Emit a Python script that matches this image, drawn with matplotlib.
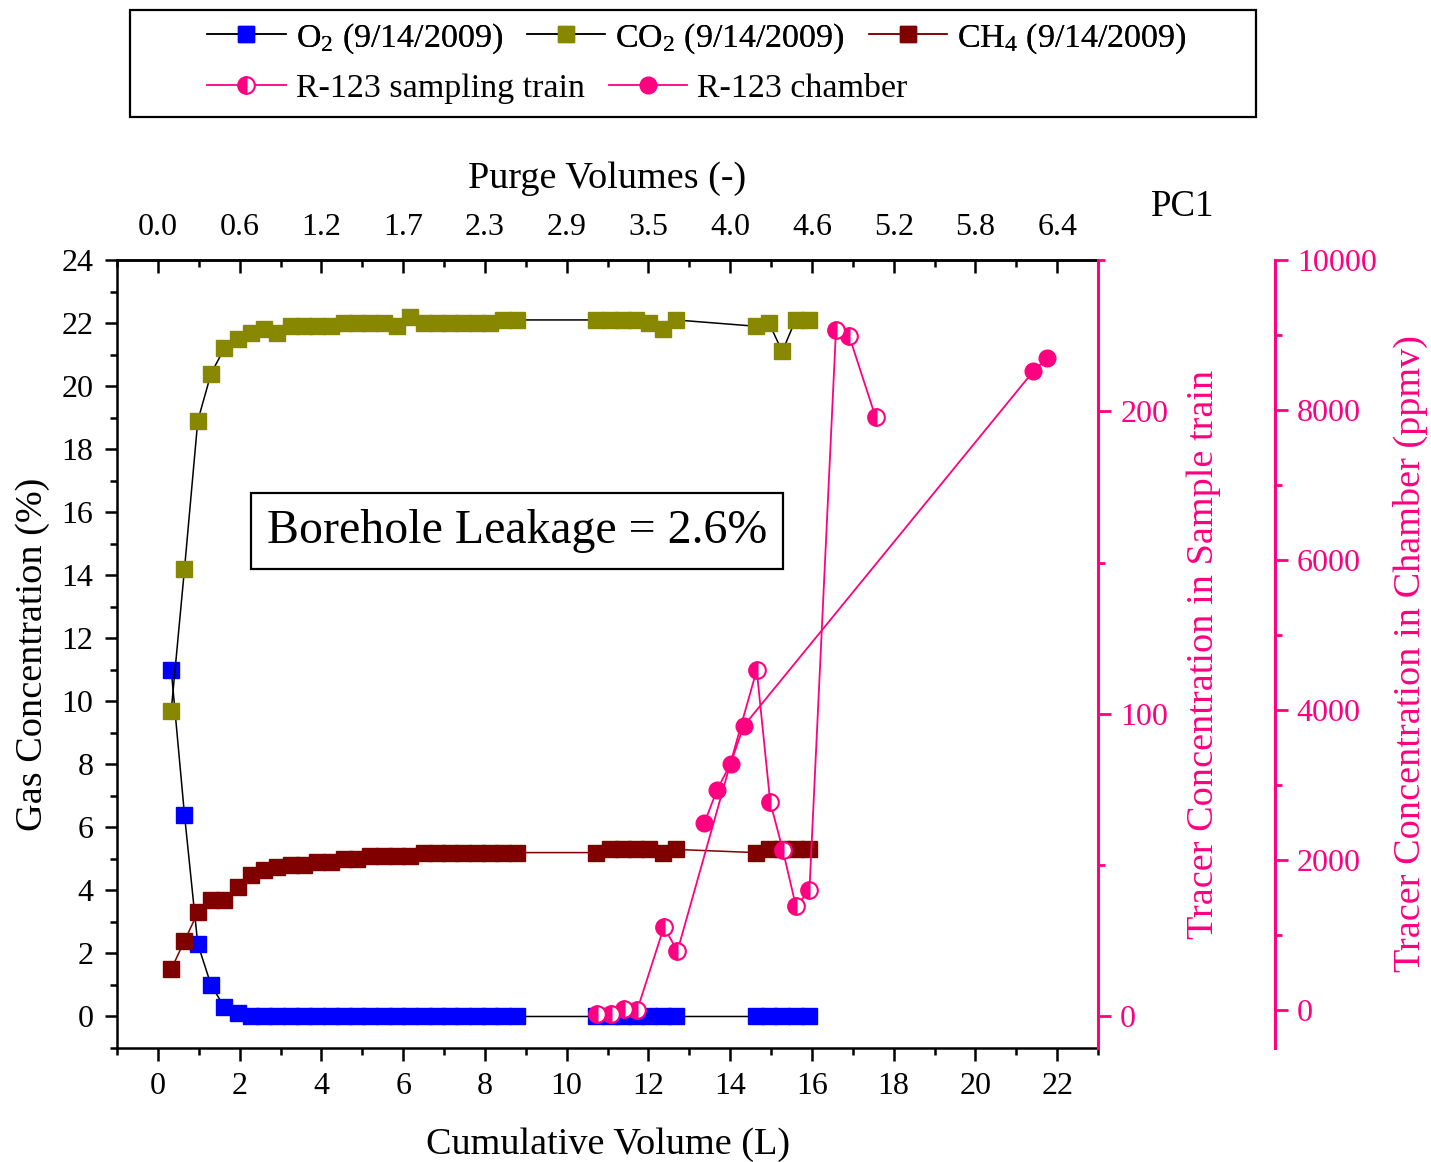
import matplotlib
matplotlib.use("Agg")
import matplotlib.pyplot as plt
from matplotlib.patches import Rectangle

plt.rcParams['font.family'] = ['Liberation Serif', 'DejaVu Serif']
plt.rcParams['mathtext.fontset'] = 'custom'
plt.rcParams['mathtext.rm'] = 'Liberation Serif'
plt.rcParams['mathtext.it'] = 'Liberation Serif:italic'

# cumulative volume (L) of the gas readings
vol = [0.325, 0.65, 0.975, 1.3, 1.625, 1.95, 2.275, 2.6, 2.925, 3.25, 3.575, 3.9,
       4.225, 4.55, 4.875, 5.2, 5.525, 5.85, 6.175, 6.5, 6.825, 7.15, 7.475, 7.8,
       8.125, 8.45, 8.775,
       10.725, 11.05, 11.375, 11.7, 12.025, 12.35, 12.675,
       14.625, 14.95, 15.275, 15.6, 15.925]
o2 = [11.0, 6.4, 2.3, 1.0, 0.3, 0.1, 0, 0, 0, 0, 0, 0,
      0, 0, 0, 0, 0, 0, 0, 0, 0, 0, 0, 0,
      0, 0, 0,
      0, 0, 0, 0, 0, 0, 0,
      0, 0, 0, 0, 0]
co2 = [9.7, 14.2, 18.9, 20.4, 21.2, 21.5, 21.7, 21.8, 21.7, 21.9, 21.9, 21.9,
       21.9, 22.0, 22.0, 22.0, 22.0, 21.9, 22.2, 22.0, 22.0, 22.0, 22.0, 22.0,
       22.0, 22.1, 22.1,
       22.1, 22.1, 22.1, 22.1, 22.0, 21.8, 22.1,
       21.9, 22.0, 21.1, 22.1, 22.1]
ch4 = [1.5, 2.4, 3.3, 3.7, 3.7, 4.1, 4.5, 4.65, 4.75, 4.8, 4.8, 4.9,
       4.9, 5.0, 5.0, 5.1, 5.1, 5.1, 5.1, 5.2, 5.2, 5.2, 5.2, 5.2,
       5.2, 5.2, 5.2,
       5.2, 5.3, 5.3, 5.3, 5.3, 5.2, 5.3,
       5.2, 5.3, 5.3, 5.3, 5.3]

# R-123 tracer
train_vol = [10.75, 11.09, 11.41, 11.73, 12.38, 12.71, 14.65, 14.98, 15.29,
             15.61, 15.94, 16.59, 16.91, 17.56]
train_conc = [0.7, 0.7, 2.5, 2.3, 29.6, 21.6, 114.5, 70.9, 54.9,
              36.4, 41.7, 227, 225, 198]
chamber_vol = [13.37, 13.68, 14.01, 14.33, 21.42, 21.75]
chamber_ppmv = [2500, 2940, 3290, 3790, 8520, 8690]

# top axis: purge volumes at the bottom ticks
purge_ticks = [0, 2, 4, 6, 8, 10, 12, 14, 16, 18, 20, 22]
purge_labels = ['0.0', '0.6', '1.2', '1.7', '2.3', '2.9', '3.5', '4.0', '4.6',
                '5.2', '5.8', '6.4']

pink = '#FF0080'
blue = '#0000FF'
olive = '#878700'
maroon = '#800000'
fs_tick = 23
fs_lab = 27.5

fig = plt.figure(figsize=(14.31, 11.62), dpi=100)
ax = fig.add_axes([0.0818, 0.0981, 0.6855, 0.6781])
ax2 = ax.twinx()
ax3 = ax.twinx()

ms = 11.5
l_o2, = ax.plot(vol, o2, '-', color='black', lw=1.1, marker='s', ms=ms,
                mfc=blue, mec=blue, label='O$_2$ (9/14/2009)', zorder=3)
l_co2, = ax.plot(vol, co2, '-', color='black', lw=1.1, marker='s', ms=ms,
                 mfc=olive, mec=olive, label='CO$_2$ (9/14/2009)', zorder=3)
l_ch4, = ax.plot(vol, ch4, '-', color=maroon, lw=1.1, marker='s', ms=ms,
                 mfc=maroon, mec=maroon, label='CH$_4$ (9/14/2009)', zorder=3)

l_tr, = ax2.plot(train_vol, train_conc, '-', color=pink, lw=1.3, marker='o', ms=12,
                 mfc=pink, mec=pink, mew=1.5, fillstyle='left', markerfacecoloralt='white',
                 label='R-123 sampling train', zorder=4)
l_ch, = ax3.plot(chamber_vol, chamber_ppmv, '-', color=pink, lw=1.3, marker='o', ms=12,
                 mfc=pink, mec=pink, label='R-123 chamber', zorder=4)

ax.set_xlim(-1, 23)
ax.set_ylim(-1, 24)
ax.set_xticks(range(0, 23, 2))
ax.set_xticks(range(-1, 24, 2), minor=True)
ax.set_yticks(range(0, 25, 2))
ax.set_yticks(range(-1, 24, 2), minor=True)
ax.tick_params(axis='both', which='major', labelsize=fs_tick, length=9, width=1.8,
               direction='out', pad=8)
ax.tick_params(axis='both', which='minor', length=5, width=1.8, direction='out')
ax.set_xlabel('Cumulative Volume (L)', fontsize=fs_lab, labelpad=19)
ax.set_ylabel('Gas Concentration (%)', fontsize=fs_lab, labelpad=8)
for s in ['left', 'bottom', 'top']:
    ax.spines[s].set_linewidth(1.8)
ax.spines['right'].set_visible(False)

# top axis
axt = ax.secondary_xaxis('top')
axt.set_xticks(purge_ticks, labels=purge_labels)
axt.set_xticks(range(-1, 24, 2), minor=True)
axt.tick_params(axis='x', which='major', labelsize=fs_tick, length=9, width=1.8,
                direction='in', pad=13)
axt.tick_params(axis='x', which='minor', length=5, width=1.8, direction='in')
axt.spines['top'].set_linewidth(1.8)
axt.set_xlabel('Purge Volumes (-)', fontsize=fs_lab, labelpad=18)

# sampling train axis
ax2.set_ylim(-250 / 24, 250)
ax2.set_yticks([0, 100, 200])
ax2.set_yticks([50, 150, 250], minor=True)
for s in ['left', 'bottom', 'top']:
    ax2.spines[s].set_visible(False)
ax2.spines['right'].set_color(pink)
ax2.spines['right'].set_linewidth(2.2)
ax2.tick_params(axis='y', which='major', colors=pink, labelsize=fs_tick, length=9, width=2, pad=7)
ax2.tick_params(axis='y', which='minor', colors=pink, length=5, width=2)
ax2.set_ylabel('Tracer Concentration in Sample train', color=pink, fontsize=fs_lab, labelpad=13)

# chamber axis
ax3.spines['right'].set_position(('axes', 1.18))
ax3.set_ylim(-500, 10000)
ax3.set_yticks(range(0, 10001, 2000))
ax3.set_yticks(range(1000, 10000, 2000), minor=True)
for s in ['left', 'bottom', 'top']:
    ax3.spines[s].set_visible(False)
ax3.spines['right'].set_color(pink)
ax3.spines['right'].set_linewidth(2.2)
ax3.tick_params(axis='y', which='major', colors=pink, labelsize=fs_tick, length=9, width=2, pad=7)
ax3.tick_params(axis='y', which='minor', colors=pink, length=5, width=2)
ax3.set_ylabel('Tracer Concentration in Chamber (ppmv)', color=pink, fontsize=fs_lab, labelpad=12)

ax.text(0.408, 0.656, 'Borehole Leakage = 2.6%', transform=ax.transAxes, fontsize=34.5,
        ha='center', va='center',
        bbox=dict(boxstyle='square,pad=0.33', fc='white', ec='black', lw=1.6), zorder=6)

fig.text(0.8267, 0.8219, 'PC1', fontsize=26.5, ha='center', va='center')

# legend box and two rows of entries
fig.patches.append(Rectangle((0.0908, 0.8993), 0.787, 0.0921, transform=fig.transFigure,
                             fill=False, ec='black', lw=1.6))
leg1 = fig.legend(handles=[l_o2, l_co2, l_ch4], loc='center left', bbox_to_anchor=(0.133, 0.967),
                  ncol=3, frameon=False, fontsize=24.5, handlelength=2.3, handletextpad=0.3,
                  columnspacing=0.7, borderpad=0, numpoints=1)
leg2 = fig.legend(handles=[l_tr, l_ch], loc='center left', bbox_to_anchor=(0.133, 0.924),
                  ncol=2, frameon=False, fontsize=24.5, handlelength=2.3, handletextpad=0.3,
                  columnspacing=0.7, borderpad=0, numpoints=1)
fig.add_artist(leg1)

fig.savefig('out.png', dpi=100)
